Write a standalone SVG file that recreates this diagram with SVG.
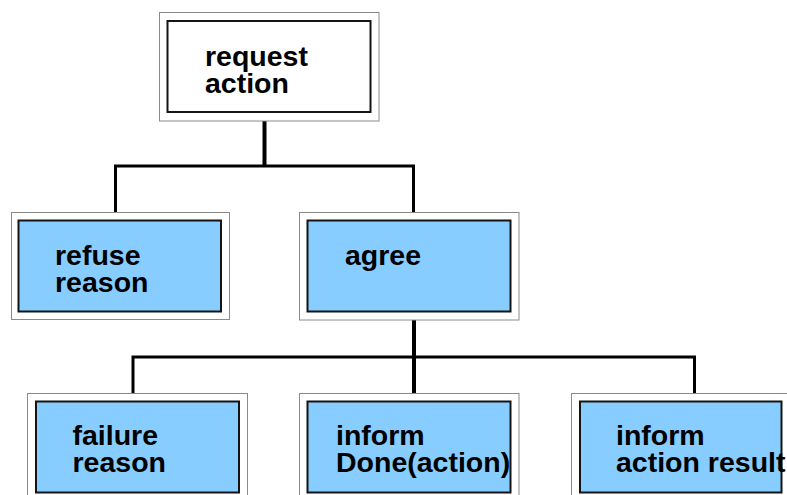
<svg xmlns="http://www.w3.org/2000/svg" width="787" height="495" viewBox="0 0 787 495">
  <style>
    .frame { fill: #ffffff; stroke: #8a8a8a; stroke-width: 1; }
    .box { stroke: #141414; stroke-width: 2; }
    .plain { fill: #ffffff; }
    .blue { fill: #87cdff; }
    .label { font-family: "Liberation Sans", Arial, sans-serif; font-weight: bold; font-size: 28.5px; fill: #000000; }
    .wire { fill: none; stroke: #000000; stroke-width: 3; stroke-linecap: butt; stroke-linejoin: miter; }
    .trunk { stroke-width: 4; }
  </style>
  <rect width="787" height="495" fill="#ffffff"/>

  <g id="connectors">
    <path class="wire trunk" d="M264.5 121 V166"/>
    <path class="wire" d="M115.5 212 V166 H413.5 V212"/>
    <path class="wire trunk" d="M414 320 V393"/>
    <path class="wire" d="M133 393 V357 H694.5 V393"/>
  </g>

  <g id="request">
    <rect class="frame" x="159.5" y="12.5" width="219.5" height="108.5"/>
    <rect class="box plain" x="167.5" y="21" width="203" height="91"/>
    <text class="label" x="205" y="66">request</text>
    <text class="label" x="205" y="93">action</text>
  </g>

  <g id="refuse">
    <rect class="frame" x="11.5" y="212.5" width="218" height="107"/>
    <rect class="box blue" x="18.5" y="220.5" width="202.5" height="91"/>
    <text class="label" x="55" y="265">refuse</text>
    <text class="label" x="55" y="292">reason</text>
  </g>

  <g id="agree">
    <rect class="frame" x="299.5" y="212.5" width="219.5" height="107.5"/>
    <rect class="box blue" x="307.5" y="220.5" width="203" height="91"/>
    <text class="label" x="345" y="265">agree</text>
  </g>

  <g id="failure">
    <rect class="frame" x="27.5" y="393.5" width="220" height="110"/>
    <rect class="box blue" x="36" y="401.5" width="203" height="91"/>
    <text class="label" x="72.5" y="445">failure</text>
    <text class="label" x="72.5" y="472">reason</text>
  </g>

  <g id="inform-done">
    <rect class="frame" x="299.5" y="393.5" width="219.5" height="110"/>
    <rect class="box blue" x="307.5" y="401.5" width="203" height="91"/>
    <text class="label" x="336" y="445">inform</text>
    <text class="label" x="336" y="472">Done(action)</text>
  </g>

  <g id="inform-result">
    <rect class="frame" x="571.5" y="393.5" width="230" height="110"/>
    <rect class="box blue" x="580" y="401.5" width="201.5" height="91"/>
    <text class="label" x="616" y="445">inform</text>
    <text class="label" x="616" y="472">action result</text>
  </g>
</svg>
